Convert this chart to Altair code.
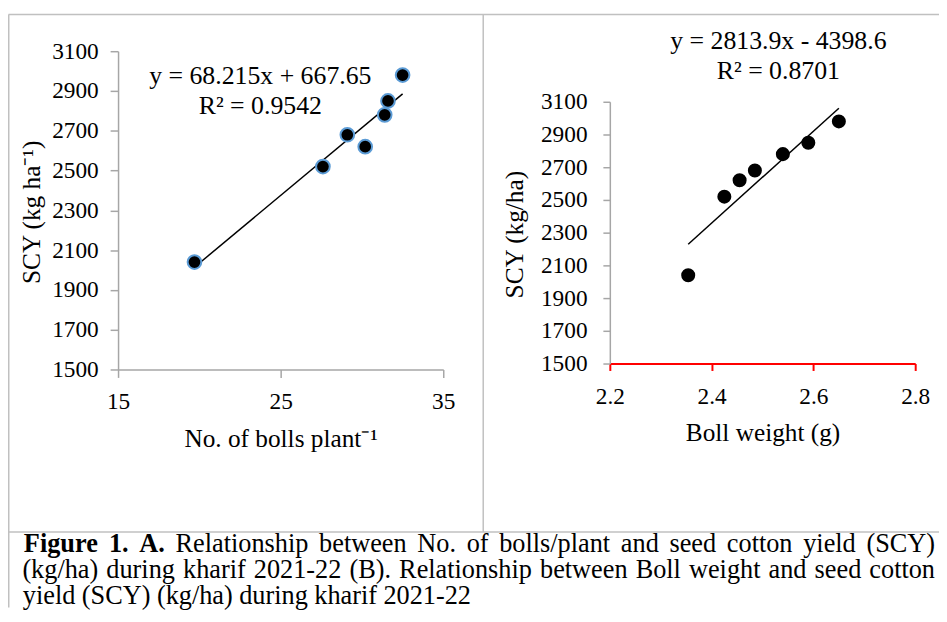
import altair as alt
import pandas as pd

# ---------------- data ----------------
# Panel A: number of bolls per plant vs seed cotton yield
bolls_per_plant = [19.7, 27.6, 29.1, 30.2, 31.4, 31.6, 32.5]
scy_a = [2040, 2520, 2680, 2620, 2780, 2850, 2980]
# Panel B: boll weight vs seed cotton yield
boll_weight = [2.354, 2.425, 2.455, 2.485, 2.540, 2.590, 2.650]
scy_b = [2040, 2520, 2620, 2680, 2780, 2850, 2980]

x_ticks_a = [15, 25, 35]
x_ticks_b = [2.2, 2.4, 2.6, 2.8]
y_ticks = [1500, 1700, 1900, 2100, 2300, 2500, 2700, 2900, 3100]

eq_a = ["y = 68.215x + 667.65", "R\u00b2 = 0.9542"]
eq_b = ["y = 2813.9x - 4398.6", "R\u00b2 = 0.8701"]

caption_bold = "Figure 1. A."
caption_l1 = "Relationship between No. of bolls/plant and seed cotton yield (SCY)"
caption_l2 = "(kg/ha) during kharif 2021-22 (B). Relationship between Boll weight and seed cotton"
caption_l3 = "yield (SCY) (kg/ha) during kharif 2021-22"

# ---------------- canvas / style ----------------
FONT = "Liberation Serif"
FRAME = "#c0c0c0"
AXIS_GRAY = "#a6a6a6"
W, H = 939, 602          # whole figure (plot area == figure)
one = pd.DataFrame({"k": [0]})

# Times-compatible advance widths (per 1000 em) for caption justification
_w = {" ": 250, "(": 333, ")": 333, "-": 333, ".": 250, "/": 278}
_w.update({d: 500 for d in "0123456789"})
_w.update(dict(zip("ABCDEFGHIJKLMNOPQRSTUVWXYZ",
                   [722, 667, 667, 722, 611, 556, 722, 722, 333, 389, 722, 611, 889,
                    722, 722, 556, 722, 667, 556, 611, 722, 722, 944, 722, 722, 611])))
_w.update(dict(zip("abcdefghijklmnopqrstuvwxyz",
                   [444, 500, 444, 500, 444, 333, 500, 500, 278, 278, 500, 278, 778,
                    500, 500, 500, 500, 333, 389, 278, 500, 500, 722, 500, 500, 444])))
_wb = dict(_w)
_wb.update({"F": 611, "u": 556, "A": 722, "r": 444})


def tw(s, size, bold=False):
    table = _wb if bold else _w
    return sum(table.get(c, 500) for c in s) * size / 1000.0


def hline(x1, x2, y):
    return alt.Chart(one).mark_rule(color=FRAME, strokeWidth=1.5).encode(
        x=alt.value(x1), x2=alt.value(x2), y=alt.value(y))


def vline(x, y1, y2):
    return alt.Chart(one).mark_rule(color=FRAME, strokeWidth=1.5).encode(
        x=alt.value(x), y=alt.value(y1), y2=alt.value(y2))


def label(txt, x, y, size, align="center", weight="normal"):
    return alt.Chart(one).mark_text(
        text=txt, font=FONT, fontSize=size, align=align, baseline="alphabetic",
        fontWeight=weight, color="black").encode(x=alt.value(x), y=alt.value(y))


def justified(tokens, x0, x1, y, size):
    """tokens: list of (word, bold) spread so the line fills x0..x1."""
    widths = [tw(w, size, b) for w, b in tokens]
    gap = (x1 - x0 - sum(widths)) / (len(tokens) - 1)
    out, x = [], x0
    for (wd, b), wdt in zip(tokens, widths):
        out.append(label(wd, x, y, size, align="left", weight="bold" if b else "normal"))
        x += wdt + gap
    return out


# ---------------- panel A (plot region x 111..439, y 41..362) ----------------
df_a = pd.DataFrame({"bolls": bolls_per_plant, "scy": scy_a})
xa = alt.X("bolls:Q",
           scale=alt.Scale(domain=[15, 35], range=[111, 439], nice=False, zero=False),
           axis=alt.Axis(values=x_ticks_a, format="d", title="No. of bolls plant\u207b\u00b9",
                         orient="bottom", offset=362 - H, tickSize=8, labelPadding=12,
                         titleX=275, titleY=78, titleBaseline="alphabetic", titleAlign="center"))
ya = alt.Y("scy:Q",
           scale=alt.Scale(domain=[1500, 3100], range=[362, 41], nice=False, zero=False),
           axis=alt.Axis(values=y_ticks, format="d", title="SCY (kg ha\u207b\u00b9)",
                         orient="left", offset=-111, tickSize=8, labelPadding=12, titleAngle=270,
                         titleX=-79, titleY=203, titleBaseline="alphabetic", titleAlign="center"))

trend_a = alt.Chart(df_a).transform_regression("bolls", "scy").mark_line(
    color="black", strokeWidth=1.5).encode(x=xa, y=ya)
points_a = alt.Chart(df_a).mark_circle(
    size=190, fill="black", stroke="#5b9bd5", strokeWidth=2, opacity=1).encode(x=xa, y=ya)
panel_a = alt.layer(trend_a, points_a)

# ---------------- panel B (plot region x 607..915, y 92..356) ----------------
df_b = pd.DataFrame({"bw": boll_weight, "scy": scy_b})
xb = alt.X("bw:Q",
           scale=alt.Scale(domain=[2.2, 2.8], range=[607, 915], nice=False, zero=False),
           axis=alt.Axis(values=x_ticks_b, format=".1f", title="Boll weight (g)",
                         orient="bottom", offset=356 - H, tickSize=7, labelPadding=14,
                         domainColor="#ff0000", tickColor="#ff0000", domainWidth=2, tickWidth=2,
                         titleX=761, titleY=78, titleBaseline="alphabetic", titleAlign="center"))
yb = alt.Y("scy:Q",
           scale=alt.Scale(domain=[1500, 3100], range=[356, 92], nice=False, zero=False),
           axis=alt.Axis(values=y_ticks, format="d", title="SCY (kg/ha)",
                         orient="left", offset=-607, tickSize=7, labelPadding=16, titleAngle=270,
                         titleX=-88, titleY=225.5, titleBaseline="alphabetic", titleAlign="center"))

trend_b = alt.Chart(df_b).transform_regression("bw", "scy").mark_line(
    color="black", strokeWidth=1.5).encode(x=xb, y=yb)
points_b = alt.Chart(df_b).mark_circle(
    size=200, fill="black", opacity=1).encode(x=xb, y=yb)
panel_b = alt.layer(trend_b, points_b)

# ---------------- decorations: frame, equations, caption ----------------
deco = [
    hline(0.5, W, 4), hline(0.75, W, 526),
    vline(0.75, 4, H), vline(479.3, 4, 526),
    label(eq_a[0], 254.5, 74, 26), label(eq_a[1], 254.5, 104, 26),
    label(eq_b[0], 777, 39, 26), label(eq_b[1], 777, 69, 26),
]
CAP = 26.5
line1 = [(w, True) for w in caption_bold.split(" ")] + [(w, False) for w in caption_l1.split(" ")]
line2 = [(w, False) for w in caption_l2.split(" ")]
line3 = [(w, False) for w in caption_l3.split(" ")]
deco += justified(line1, 16, 935, 546, CAP)
deco += justified(line2, 14.5, 935, 572.5, CAP)
deco += justified(line3, 15, 467, 599, CAP)

chart = alt.layer(panel_a, panel_b, *deco).resolve_scale(
    x="independent", y="independent"
).properties(
    width=W, height=H, padding=0, autosize=alt.AutoSizeParams(type="none")
).configure(font=FONT).configure_view(strokeWidth=0).configure_axis(
    labelFont=FONT, titleFont=FONT, labelColor="black", titleColor="black",
    titleFontWeight="normal", labelFontSize=23.5, titleFontSize=25.5,
    grid=False, labelFlush=False, labelOverlap=False,
    domainColor=AXIS_GRAY, tickColor=AXIS_GRAY, domainWidth=1.5, tickWidth=1.5)

chart.save("out.html", embed_options={"renderer": "svg", "actions": False})
